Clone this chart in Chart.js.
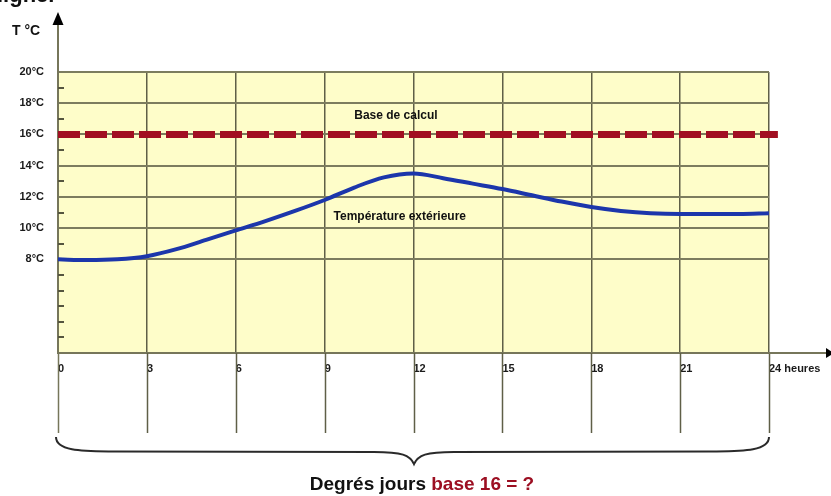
<!DOCTYPE html>
<html>
<head>
<meta charset="utf-8">
<script src="https://cdn.jsdelivr.net/npm/chart.js@4.4.1/dist/chart.umd.min.js"></script>
<style>
  html, body { margin: 0; padding: 0; background: #fff; }
</style>
</head>
<body>
<canvas id="myChart" width="831" height="496"></canvas>
<script>
// hours of the day and outdoor temperature (°C)
const hours = [0, 1, 2, 3, 4, 5, 6, 7, 8, 9, 10, 11, 12, 13, 14, 15, 16, 17, 18, 19, 20, 21, 22, 23, 24];
const temps = [8.0, 7.95, 8.0, 8.2, 8.65, 9.25, 9.85, 10.45, 11.1, 11.8, 12.6, 13.25, 13.5, 13.2, 12.85, 12.5, 12.1, 11.7, 11.35, 11.1, 10.95, 10.9, 10.9, 10.9, 10.95];
// base line (base de calcul)
const baseHours = [0, 24.3];
const baseTemps = [16, 16];
const xTickValues = [0, 3, 6, 9, 12, 15, 18, 21, 24];
const yLabelFrom = 8;

const olive = '#76765a';
const lineDark = '#5f5f47';

const decor = {
  id: 'decor',
  beforeDraw(chart) {
    const { ctx, chartArea: a } = chart;
    ctx.save();
    ctx.fillStyle = '#fefdc9';
    ctx.fillRect(a.left, a.top, a.right - a.left, a.bottom - a.top);
    ctx.restore();
  },
  afterDraw(chart) {
    const { ctx, chartArea: a } = chart;
    const xs = chart.scales.x, ys = chart.scales.y;
    ctx.save();

    // extension lines under the axis
    ctx.lineWidth = 1.5;
    xTickValues.forEach(v => {
      const px = Math.round(xs.getPixelForValue(v)) + 0.5;
      ctx.strokeStyle = v === 0 ? olive : lineDark;
      ctx.beginPath();
      ctx.moveTo(px, a.bottom);
      ctx.lineTo(px, 433);
      ctx.stroke();
    });

    // y axis up to the arrow
    ctx.strokeStyle = olive;
    ctx.lineWidth = 2;
    ctx.beginPath();
    ctx.moveTo(a.left, a.top);
    ctx.lineTo(a.left, 22);
    ctx.stroke();
    ctx.fillStyle = '#000';
    ctx.beginPath();
    ctx.moveTo(a.left, 12);
    ctx.lineTo(a.left - 5.5, 25);
    ctx.lineTo(a.left + 5.5, 25);
    ctx.closePath();
    ctx.fill();

    // x axis to the right + arrow
    ctx.strokeStyle = olive;
    ctx.beginPath();
    ctx.moveTo(a.right, a.bottom);
    ctx.lineTo(826, a.bottom);
    ctx.stroke();
    ctx.fillStyle = '#000';
    ctx.beginPath();
    ctx.moveTo(834, a.bottom);
    ctx.lineTo(826, a.bottom - 5);
    ctx.lineTo(826, a.bottom + 5);
    ctx.closePath();
    ctx.fill();

    // minor ticks on y axis
    ctx.strokeStyle = '#55553f';
    ctx.lineWidth = 2;
    for (let v = 3; v < 20; v++) {
      if (v >= yLabelFrom && v % 2 === 0) continue;
      const py = Math.round(ys.getPixelForValue(v));
      ctx.beginPath();
      ctx.moveTo(a.left, py);
      ctx.lineTo(a.left + 6, py);
      ctx.stroke();
    }

    // texts
    ctx.fillStyle = '#111';
    ctx.textBaseline = 'middle';
    ctx.textAlign = 'left';
    ctx.font = 'bold 12px Arial, "Liberation Sans", sans-serif';
    ctx.fillText('Base de calcul', xs.getPixelForValue(10.0), ys.getPixelForValue(17.2));
    ctx.fillText('Température extérieure', xs.getPixelForValue(9.3), ys.getPixelForValue(10.75));
    ctx.font = 'bold 14px Arial, "Liberation Sans", sans-serif';
    ctx.fillText('T °C', 12, 31);
    ctx.textBaseline = 'alphabetic';
    ctx.font = 'bold 22px Arial, "Liberation Sans", sans-serif';
    ctx.fillText('ligne.', -3, 2);

    // brace
    const L = xs.getPixelForValue(0) - 2, R = xs.getPixelForValue(24), M = 414;
    ctx.strokeStyle = '#2a2a2a';
    ctx.lineWidth = 2;
    ctx.beginPath();
    ctx.moveTo(L, 437);
    ctx.bezierCurveTo(L, 452, L + 30, 451, L + 60, 451.5);
    ctx.lineTo(M - 40, 452);
    ctx.bezierCurveTo(M - 12, 452, M - 4, 455, M, 464);
    ctx.bezierCurveTo(M + 4, 455, M + 12, 452, M + 40, 452);
    ctx.lineTo(R - 60, 451.5);
    ctx.bezierCurveTo(R - 30, 451, R, 452, R, 437);
    ctx.stroke();

    // bottom caption
    ctx.font = 'bold 19px "Liberation Sans Narrow", "Arial Narrow", Arial, sans-serif';
    ctx.textBaseline = 'middle';
    const p1 = 'Degrés jours ', p2 = 'base 16 = ?';
    const w1 = ctx.measureText(p1).width, w2 = ctx.measureText(p2).width;
    const sx = 422 - (w1 + w2) / 2;
    ctx.fillStyle = '#111';
    ctx.fillText(p1, sx, 485);
    ctx.fillStyle = '#9c0f22';
    ctx.fillText(p2, sx + w1, 485);

    ctx.restore();
  }
};

const ctx = document.getElementById('myChart');

new Chart(ctx, {
  type: 'line',
  data: {
    datasets: [{
      label: 'Base de calcul',
      data: baseHours.map((h, i) => ({ x: h, y: baseTemps[i] })),
      borderColor: '#a10f22',
      borderWidth: 7,
      borderDash: [22, 5],
      borderCapStyle: 'butt',
      pointRadius: 0,
      clip: false
    }, {
      label: 'Température extérieure',
      data: hours.map((h, i) => ({ x: h, y: temps[i] })),
      borderColor: '#1c36ab',
      borderWidth: 4,
      cubicInterpolationMode: 'monotone',
      pointRadius: 0
    }]
  },
  options: {
    responsive: false,
    animation: false,
    layout: { padding: { left: 0, right: 62, top: 72, bottom: 63 } },
    plugins: { legend: { display: false }, tooltip: { enabled: false } },
    scales: {
      x: {
        type: 'linear',
        min: 0,
        max: 24,
        afterBuildTicks: s => { s.ticks = xTickValues.map(v => ({ value: v })); },
        afterFit: s => { s.height = 80; s.paddingLeft = 0; s.paddingRight = 0; },
        ticks: {
          align: 'start',
          padding: 9,
          color: '#1a1a1a',
          font: { family: 'Arial, "Liberation Sans", sans-serif', size: 11, weight: 'bold' },
          callback: v => v === 24 ? '24 heures' : String(v)
        },
        grid: { color: lineDark, lineWidth: 1.5, drawTicks: false },
        border: { color: olive, width: 2 }
      },
      y: {
        min: 2,
        max: 20,
        afterFit: s => { s.width = 58; s.paddingTop = 0; s.paddingBottom = 0; },
        ticks: {
          stepSize: 2,
          padding: 14,
          color: '#1a1a1a',
          font: { family: 'Arial, "Liberation Sans", sans-serif', size: 11, weight: 'bold' },
          callback: v => v >= yLabelFrom ? v + '°C' : ''
        },
        grid: {
          drawTicks: false,
          lineWidth: 2,
          color: c => (c.tick && c.tick.value >= yLabelFrom && c.tick.value <= 20) ? '#7c7c5e' : 'rgba(0,0,0,0)'
        },
        border: { color: olive, width: 2 }
      }
    }
  },
  plugins: [decor]
});
</script>
</body>
</html>
